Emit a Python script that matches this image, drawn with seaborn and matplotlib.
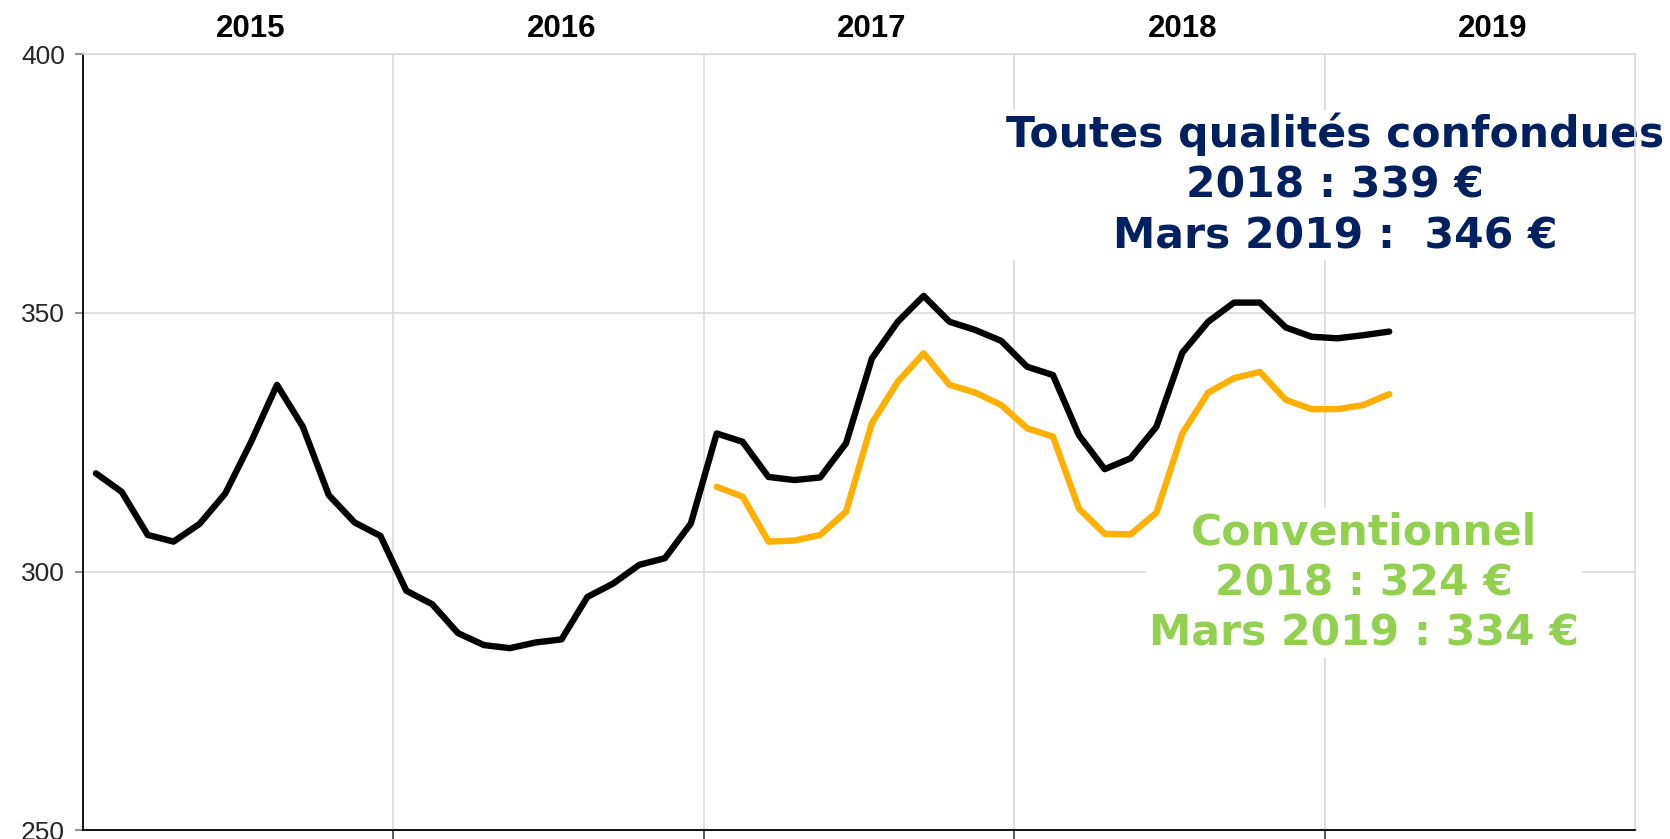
import numpy as np
import pandas as pd
import seaborn as sns
import matplotlib.pyplot as plt
from matplotlib.transforms import blended_transform_factory

YEARS = ["2015", "2016", "2017", "2018", "2019"]

# monthly prices, Jan 2015 -> Mar 2019 (all qualities)
TOUTES = [319.0, 315.4, 307.1, 305.8, 309.2, 315.1, 325.1, 336.1, 328.0, 314.8, 309.5, 306.9,
          296.3, 293.7, 288.1, 285.8, 285.2, 286.3, 286.9, 295.1, 297.7, 301.3, 302.6, 309.3,
          326.7, 325.1, 318.3, 317.7, 318.2, 324.8, 341.2, 348.3, 353.3, 348.3, 346.7, 344.6,
          339.6, 338.0, 326.4, 319.8, 321.9, 328.0, 342.3, 348.3, 352.0, 352.0, 347.2, 345.4,
          345.1, 345.7, 346.4]
# conventional, Jan 2017 -> Mar 2019
CONV_START = 24
CONV = [316.4, 314.5, 305.8, 306.0, 307.1, 311.6, 328.7, 336.7, 342.2, 336.1, 334.6, 332.2,
        327.7, 326.1, 312.2, 307.3, 307.2, 311.4, 326.7, 334.6, 337.4, 338.6, 333.2, 331.4,
        331.4, 332.2, 334.3]

NAVY = "#002060"
GREEN = "#92D050"
ORANGE = "#FFB000"
GRID = "#D9D9D9"

sns.set_style("white")
plt.rcParams["font.family"] = ["Liberation Sans", "DejaVu Sans"]

df = pd.concat([
    pd.DataFrame({"mois": np.arange(len(TOUTES)), "prix": TOUTES, "serie": "toutes"}),
    pd.DataFrame({"mois": np.arange(CONV_START, CONV_START + len(CONV)), "prix": CONV, "serie": "conv"}),
])

fig = plt.figure(figsize=(16.7, 8.39), dpi=100)
ax = fig.add_axes([0.0497, 0.0104, 0.9293, 0.9249])

sns.lineplot(data=df[df.serie == "conv"], x="mois", y="prix", color=ORANGE, lw=4.6, ax=ax, zorder=3)
sns.lineplot(data=df[df.serie == "toutes"], x="mois", y="prix", color="black", lw=4.6, ax=ax, zorder=4)

ax.set_xlim(-0.5, 59.5)
ax.set_ylim(250, 400)
ax.set_xlabel("")
ax.set_ylabel("")

ax.set_yticks([250, 300, 350, 400])
ax.set_xticks([11.5, 23.5, 35.5, 47.5])
ax.set_xticklabels([])
ax.grid(True, color=GRID, lw=1.2, zorder=0)
ax.set_axisbelow(True)
ax.tick_params(axis="y", which="major", left=True, length=6, width=1.2, color="#808080",
               pad=7, labelsize=19)
ax.tick_params(axis="x", which="major", bottom=True, length=8, width=1.2, color="#404040")

for side in ["left", "bottom"]:
    ax.spines[side].set_color("black")
    ax.spines[side].set_linewidth(1.3)
for side in ["top", "right"]:
    ax.spines[side].set_color(GRID)
    ax.spines[side].set_linewidth(1.2)

trans = blended_transform_factory(ax.transData, ax.transAxes)
for i, y in enumerate(YEARS):
    ax.text(12 * i + 6, 1.033, y, transform=trans, ha="center", va="center",
            fontsize=22.5, fontweight="bold", color="black")

ax.text(1335 / 1670, 1 - 185 / 839, "Toutes qualités confondues\n2018 : 339 €\nMars 2019 :  346 €",
        transform=fig.transFigure, ha="center", va="center", fontsize=30.6, fontweight="bold",
        color=NAVY, family="DejaVu Sans", linespacing=1.26, zorder=2,
        bbox=dict(facecolor="white", edgecolor="none", pad=2))

ax.text(1364 / 1670, 1 - 583 / 839, "Conventionnel\n2018 : 324 €\nMars 2019 : 334 €",
        transform=fig.transFigure, ha="center", va="center", fontsize=30.6, fontweight="bold",
        color=GREEN, family="DejaVu Sans", linespacing=1.26, zorder=2,
        bbox=dict(facecolor="white", edgecolor="none", pad=2))

fig.savefig("out.png", dpi=100)
